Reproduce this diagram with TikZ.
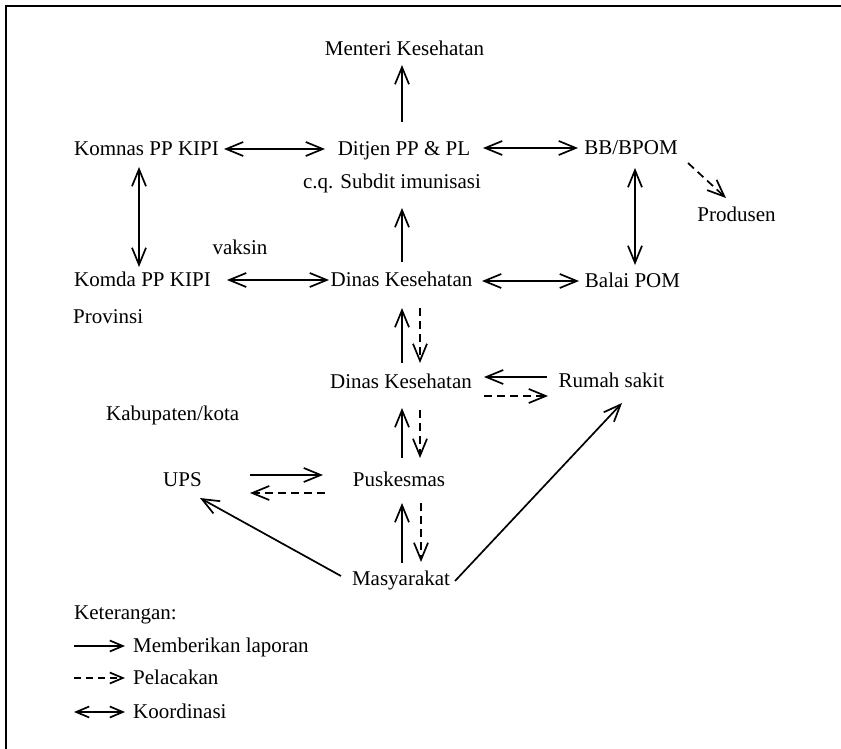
\documentclass[tikz,border=0pt]{standalone}
\usepackage{fontspec}
\setmainfont{Liberation Serif}
\usetikzlibrary{arrows.meta,calc}
\tikzset{
  lbl/.style={anchor=base,inner sep=0pt,font=\fontsize{21}{25}\selectfont},
  lblw/.style={anchor=base west,inner sep=0pt,font=\fontsize{21}{25}\selectfont},
  conn/.style={line width=1.7pt,-{Straight Barb[length=17pt,width=14pt,line width=1.7pt]}},
  coord/.style={line width=1.7pt,{Straight Barb[length=17pt,width=14pt,line width=1.7pt]}-{Straight Barb[length=17pt,width=14pt,line width=1.7pt]}},
  trace/.style={conn,dash pattern=on 8pt off 5pt},
  legsolid/.style={line width=1.7pt,-{Straight Barb[length=13pt,width=11pt,line width=1.7pt]}},
  legdash/.style={legsolid,dash pattern=on 7pt off 5pt},
  legcoord/.style={line width=1.7pt,{Straight Barb[length=13pt,width=11pt,line width=1.7pt]}-{Straight Barb[length=13pt,width=11pt,line width=1.7pt]}},
  frame/.style={line width=1.8pt}
}
\begin{document}
\begin{tikzpicture}[x=1pt,y=-1pt]
\useasboundingbox (0,0) rectangle (841,749);
\draw[frame] (6,749) -- (6,6) -- (841,6);
% nodes
\node[lbl] (menteri) at (404.5,55.5) {Menteri Kesehatan};
\node[lbl] (komnas) at (146.5,155.5) {Komnas PP KIPI};
\node[lbl] (ditjen) at (404,155.5) {Ditjen PP \& PL};
\node[lbl] (cq) at (392,188.5) {c.q. Subdit imunisasi};
\node[lbl] (bbpom) at (631,154.5) {BB/BPOM};
\node[lbl] (produsen) at (736.5,221.5) {Produsen};
\node[lbl] (vaksin) at (240,254.5) {vaksin};
\node[lbl] (komda) at (142.5,286.5) {Komda PP KIPI};
\node[lbl] (dinasprov) at (401.5,286.5) {Dinas Kesehatan};
\node[lbl] (balaipom) at (632.5,287.5) {Balai POM};
\node[lblw] (provinsi) at (73,323.5) {Provinsi};
\node[lbl] (dinaskab) at (401,388.5) {Dinas Kesehatan};
\node[lbl] (rumahsakit) at (611.5,387.5) {Rumah sakit};
\node[lblw] (kabkota) at (106,420.5) {Kabupaten/kota};
\node[lbl] (ups) at (182.5,486.5) {UPS};
\node[lbl] (puskesmas) at (399,486.5) {Puskesmas};
\node[lbl] (masyarakat) at (401,585.5) {Masyarakat};
\node[lblw] (keterangan) at (74,619.5) {Keterangan:};
\node[lblw] (leg1) at (133,652.5) {Memberikan laporan};
\node[lblw] (leg2) at (133,684.5) {Pelacakan};
\node[lblw] (leg3) at (133,718.5) {Koordinasi};
% connectors
\draw[conn] ($(ditjen.base)+(-2,-33.5)$) -- ($(menteri.base)+(-2.5,9.5)$);
\draw[coord] ($(komnas.base)+(77.5,-6.5)$) -- ($(ditjen.base)+(-79,-6.5)$);
\draw[coord] ($(ditjen.base)+(79,-7.5)$) -- ($(bbpom.base)+(-53,-6.5)$);
\draw[trace] ($(bbpom.base)+(57,8.5)$) -- ($(produsen.base)+(-10.5,-23.5)$);
\draw[coord] ($(komnas.base)+(-7.5,11.5)$) -- ($(komda.base)+(-3.5,-19.5)$);
\draw[coord] ($(komda.base)+(84.5,-6.5)$) -- ($(dinasprov.base)+(-72.5,-6.5)$);
\draw[conn] ($(dinasprov.base)+(0.5,-24.5)$) -- ($(cq.base)+(10,19.5)$);
\draw[coord] ($(dinasprov.base)+(80.5,-5.5)$) -- ($(balaipom.base)+(-53.5,-6.5)$);
\draw[coord] ($(bbpom.base)+(4,13.5)$) -- ($(balaipom.base)+(2.5,-22.5)$);
\draw[conn] ($(dinaskab.base)+(1,-25.5)$) -- ($(dinasprov.base)+(0.5,21.5)$);
\draw[trace] ($(dinasprov.base)+(18.5,21.5)$) -- ($(dinaskab.base)+(19,-25.5)$);
\draw[conn] ($(rumahsakit.base)+(-64.5,-10.5)$) -- ($(dinaskab.base)+(83,-11.5)$);
\draw[trace] ($(dinaskab.base)+(83,7.5)$) -- ($(rumahsakit.base)+(-63.5,8.5)$);
\draw[conn] ($(puskesmas.base)+(3,-28.5)$) -- ($(dinaskab.base)+(1,19.5)$);
\draw[trace] ($(dinaskab.base)+(19,21.5)$) -- ($(puskesmas.base)+(21,-28.5)$);
\draw[conn] ($(ups.base)+(67.5,-11.5)$) -- ($(puskesmas.base)+(-76,-11.5)$);
\draw[trace] ($(puskesmas.base)+(-74,6.5)$) -- ($(ups.base)+(67.5,6.5)$);
\draw[conn] ($(masyarakat.base)+(1,-22.5)$) -- ($(puskesmas.base)+(3,16.5)$);
\draw[trace] ($(puskesmas.base)+(22,16.5)$) -- ($(masyarakat.base)+(20,-23.5)$);
\draw[conn] ($(masyarakat.base)+(-60,-9.5)$) -- ($(ups.base)+(17.5,11.5)$);
\draw[conn] ($(masyarakat.base)+(54,-4.5)$) -- ($(rumahsakit.base)+(10.5,15.5)$);
% legend
\draw[legsolid] ($(leg1.base west)+(-59,-6.5)$) -- ($(leg1.base west)+(-8,-6.5)$);
\draw[legdash] ($(leg2.base west)+(-59,-6.5)$) -- ($(leg2.base west)+(-8,-6.5)$);
\draw[legcoord] ($(leg3.base west)+(-59,-6.5)$) -- ($(leg3.base west)+(-8,-6.5)$);
\end{tikzpicture}
\end{document}
